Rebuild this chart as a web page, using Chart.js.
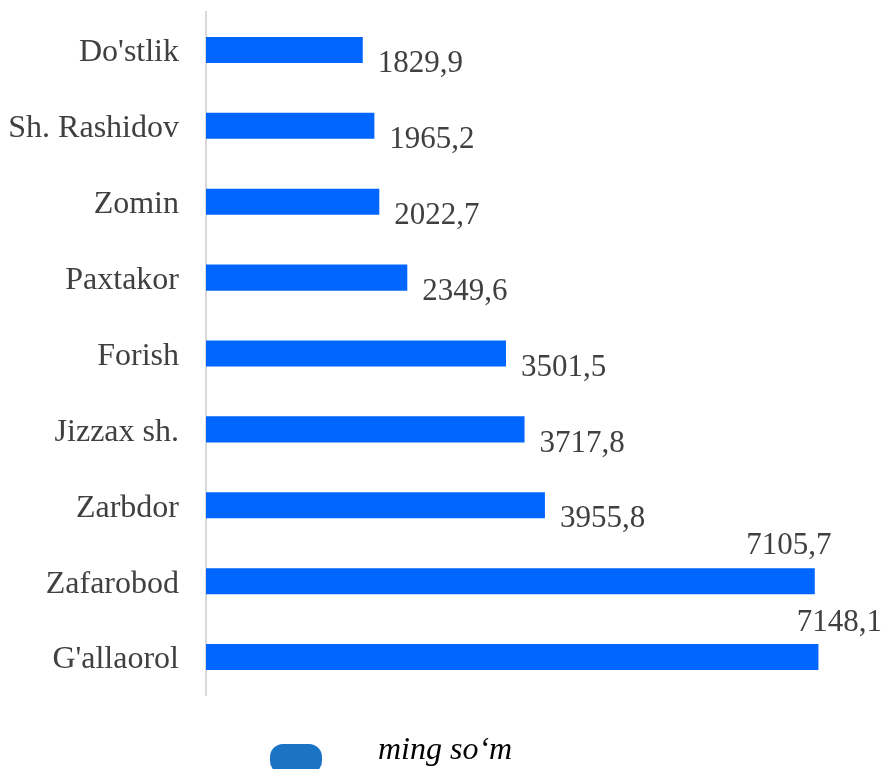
<!DOCTYPE html>
<html>
<head>
<meta charset="utf-8">
<script src="https://cdn.jsdelivr.net/npm/chart.js@4.4.1/dist/chart.umd.min.js"></script>
<style>
  html, body { margin: 0; padding: 0; background: #fff; }
  #wrap { width: 883px; height: 769px; position: relative; }
</style>
</head>
<body>
<div id="wrap"><canvas id="bars"></canvas></div>
<script>
const districts = ['Do\'stlik', 'Sh. Rashidov', 'Zomin', 'Paxtakor', 'Forish', 'Jizzax sh.', 'Zarbdor', 'Zafarobod', 'G\'allaorol'];
const amounts   = [1829.9, 1965.2, 2022.7, 2349.6, 3501.5, 3717.8, 3955.8, 7105.7, 7148.1];
const unitLabel = 'ming so‘m';

const SERIF = '"Liberation Serif", "Times New Roman", serif';
const BAR_BLUE = '#0066ff';
const LEGEND_BLUE = '#1a73c4';
const fmt = v => v.toFixed(1).replace('.', ',');

// value labels: right of the bar end, except the two long bars (above the bar)
const valueLabels = {
  id: 'valueLabels',
  afterDatasetsDraw(chart) {
    const { ctx } = chart;
    const meta = chart.getDatasetMeta(0);
    ctx.save();
    ctx.font = '31px ' + SERIF;
    ctx.fillStyle = '#404040';
    ctx.textBaseline = 'middle';
    meta.data.forEach((bar, i) => {
      const txt = fmt(amounts[i]);
      if (i === 7) {
        ctx.textAlign = 'center';
        ctx.fillText(txt, bar.x - 26, bar.y - 35);
      } else if (i === 8) {
        ctx.textAlign = 'center';
        ctx.fillText(txt, bar.x + 21, bar.y - 34);
      } else {
        ctx.textAlign = 'left';
        ctx.fillText(txt, bar.x + 15, bar.y + 14);
      }
    });
    ctx.restore();
  }
};

const bottomLegend = {
  id: 'bottomLegend',
  afterDraw(chart) {
    const { ctx } = chart;
    ctx.save();
    ctx.fillStyle = LEGEND_BLUE;
    ctx.beginPath();
    ctx.roundRect(270, 744, 52, 30, 13);
    ctx.fill();
    ctx.font = 'italic 32px ' + SERIF;
    ctx.fillStyle = '#000';
    ctx.textAlign = 'left';
    ctx.textBaseline = 'middle';
    ctx.fillText(chart.data.datasets[0].label, 378, 751);
    ctx.restore();
  }
};

new Chart(document.getElementById('bars'), {
  type: 'bar',
  data: {
    labels: districts,
    datasets: [{
      label: unitLabel,
      data: amounts,
      backgroundColor: BAR_BLUE,
      borderWidth: 0,
      barPercentage: 0.343,
      categoryPercentage: 1,
    }],
  },
  options: {
    indexAxis: 'y',
    responsive: true,
    maintainAspectRatio: false,
    animation: false,
    layout: { padding: { top: 12, bottom: 74, right: 13, left: 0 } },
    plugins: { legend: { display: false }, tooltip: { enabled: false } },
    scales: {
      x: { display: false, min: 0, max: 7750 },
      y: {
        afterFit: s => { s.width = 206; s.paddingTop = 0; s.paddingBottom = 0; },
        grid: { display: false, drawTicks: false },
        border: { display: true, color: '#d9d9d9', width: 2 },
        ticks: { padding: 27, labelOffset: 3, color: '#404040', font: { family: SERIF, size: 32 } },
      },
    },
  },
  plugins: [valueLabels, bottomLegend],
});
</script>
</body>
</html>
